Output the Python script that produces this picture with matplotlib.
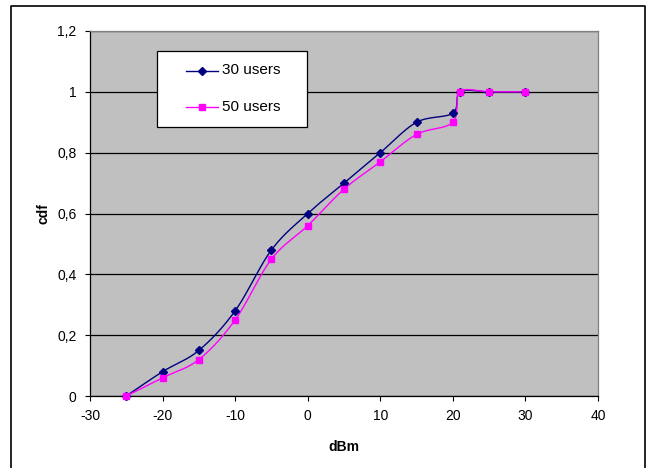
import numpy as np
import matplotlib
matplotlib.use("Agg")
import matplotlib.pyplot as plt
from matplotlib.patches import Rectangle
from matplotlib.lines import Line2D

plt.rcParams['font.family'] = ['Liberation Sans', 'DejaVu Sans']

# ---- data ----
dbm = [-25, -20, -15, -10, -5, 0, 5, 10, 15, 20, 21, 25, 30]
cdf_30 = [0.0, 0.08, 0.15, 0.28, 0.48, 0.60, 0.70, 0.80, 0.90, 0.93, 1.0, 1.0, 1.0]
cdf_50 = [0.0, 0.06, 0.12, 0.25, 0.45, 0.56, 0.68, 0.77, 0.86, 0.90, 1.0, 1.0, 1.0]
series_names = ['30 users', '50 users']
xticks = [-30, -20, -10, 0, 10, 20, 30, 40]
yticks = [0, 0.2, 0.4, 0.6, 0.8, 1.0, 1.2]
yticklabels = ['0', '0,2', '0,4', '0,6', '0,8', '1', '1,2']

NAVY = '#000080'
MAGENTA = '#FF00FF'
GRAY = '#C0C0C0'


def smooth(xs, ys, n=30):
    """Excel-like smoothed line (Catmull-Rom as cubic Bezier)."""
    p = np.column_stack([xs, ys]).astype(float)
    out = []
    for i in range(len(p) - 1):
        p0 = p[i - 1] if i > 0 else p[i]
        p1 = p[i]
        p2 = p[i + 1]
        p3 = p[i + 2] if i + 2 < len(p) else p[i + 1]
        c1 = p1 + (p2 - p0) / 6.0
        c2 = p2 - (p3 - p1) / 6.0
        t = np.linspace(0, 1, n)[:, None]
        seg = ((1 - t) ** 3) * p1 + 3 * ((1 - t) ** 2) * t * c1 + 3 * (1 - t) * t ** 2 * c2 + t ** 3 * p2
        out.append(seg if i == 0 else seg[1:])
    c = np.vstack(out)
    return c[:, 0], c[:, 1]


W, H = 651, 468
fig = plt.figure(figsize=(W / 100, H / 100), dpi=100)
fig.patch.set_facecolor('white')

ax = fig.add_axes([90 / W, 1 - 396 / H, 508 / W, 365 / H])
ax.set_facecolor(GRAY)
ax.set_xlim(-30, 40)
ax.set_ylim(0, 1.2)
ax.set_xticks(xticks)
ax.set_xticklabels([str(v) for v in xticks])
ax.set_yticks(yticks)
ax.set_yticklabels(yticklabels)
ax.tick_params(axis='both', labelsize=10, length=3.6, width=0.8, colors='black', direction='out')
ax.tick_params(axis='x', pad=6)
ax.tick_params(axis='y', pad=6)
ax.grid(axis='y', color='black', linewidth=0.9)
ax.set_axisbelow(True)
for s in ['top', 'right']:
    ax.spines[s].set_color('#808080')
    ax.spines[s].set_linewidth(0.9)
for s in ['left', 'bottom']:
    ax.spines[s].set_color('black')
    ax.spines[s].set_linewidth(0.9)

ax.set_xlabel('dBm', fontsize=10, fontweight='bold', labelpad=12)
ax.set_ylabel('cdf', fontsize=10, fontweight='bold', labelpad=5)

for ys, col, mk, ms in [(cdf_30, NAVY, 'D', 3.6), (cdf_50, MAGENTA, 's', 4.8)]:
    sx, sy = smooth(dbm, ys)
    ax.plot(sx, sy, color=col, linewidth=1.0, zorder=3, clip_on=False)
    ax.plot(dbm, ys, linestyle='none', marker=mk, markersize=ms, color=col,
            markeredgecolor=col, zorder=4, clip_on=False)

# legend (Excel-style box)
fig.add_artist(Rectangle((157 / W, 1 - 127 / H), 150 / W, 76 / H, transform=fig.transFigure,
                         facecolor='white', edgecolor='black', linewidth=0.9, zorder=10))
for i, (name, col, mk, ms) in enumerate([(series_names[0], NAVY, 'D', 3.6),
                                        (series_names[1], MAGENTA, 's', 4.8)]):
    yy = 1 - (70.5 + i * 36.5) / H
    fig.add_artist(Line2D([185.5 / W, 218 / W], [yy, yy], transform=fig.transFigure,
                          color=col, linewidth=1.0, zorder=11))
    fig.add_artist(Line2D([201.5 / W], [yy], transform=fig.transFigure, color=col,
                          marker=mk, markersize=ms, linestyle='none', zorder=12))
    fig.text(222 / W, yy, name, fontsize=11, va='center', ha='left', zorder=12)

# outer chart border
fig.add_artist(Line2D([11 / W, 11 / W, 645 / W, 645 / W], [0, 1 - 5.5 / H, 1 - 5.5 / H, 0],
                      transform=fig.transFigure, color='black', linewidth=1.2))

fig.savefig('out.png', dpi=100)
